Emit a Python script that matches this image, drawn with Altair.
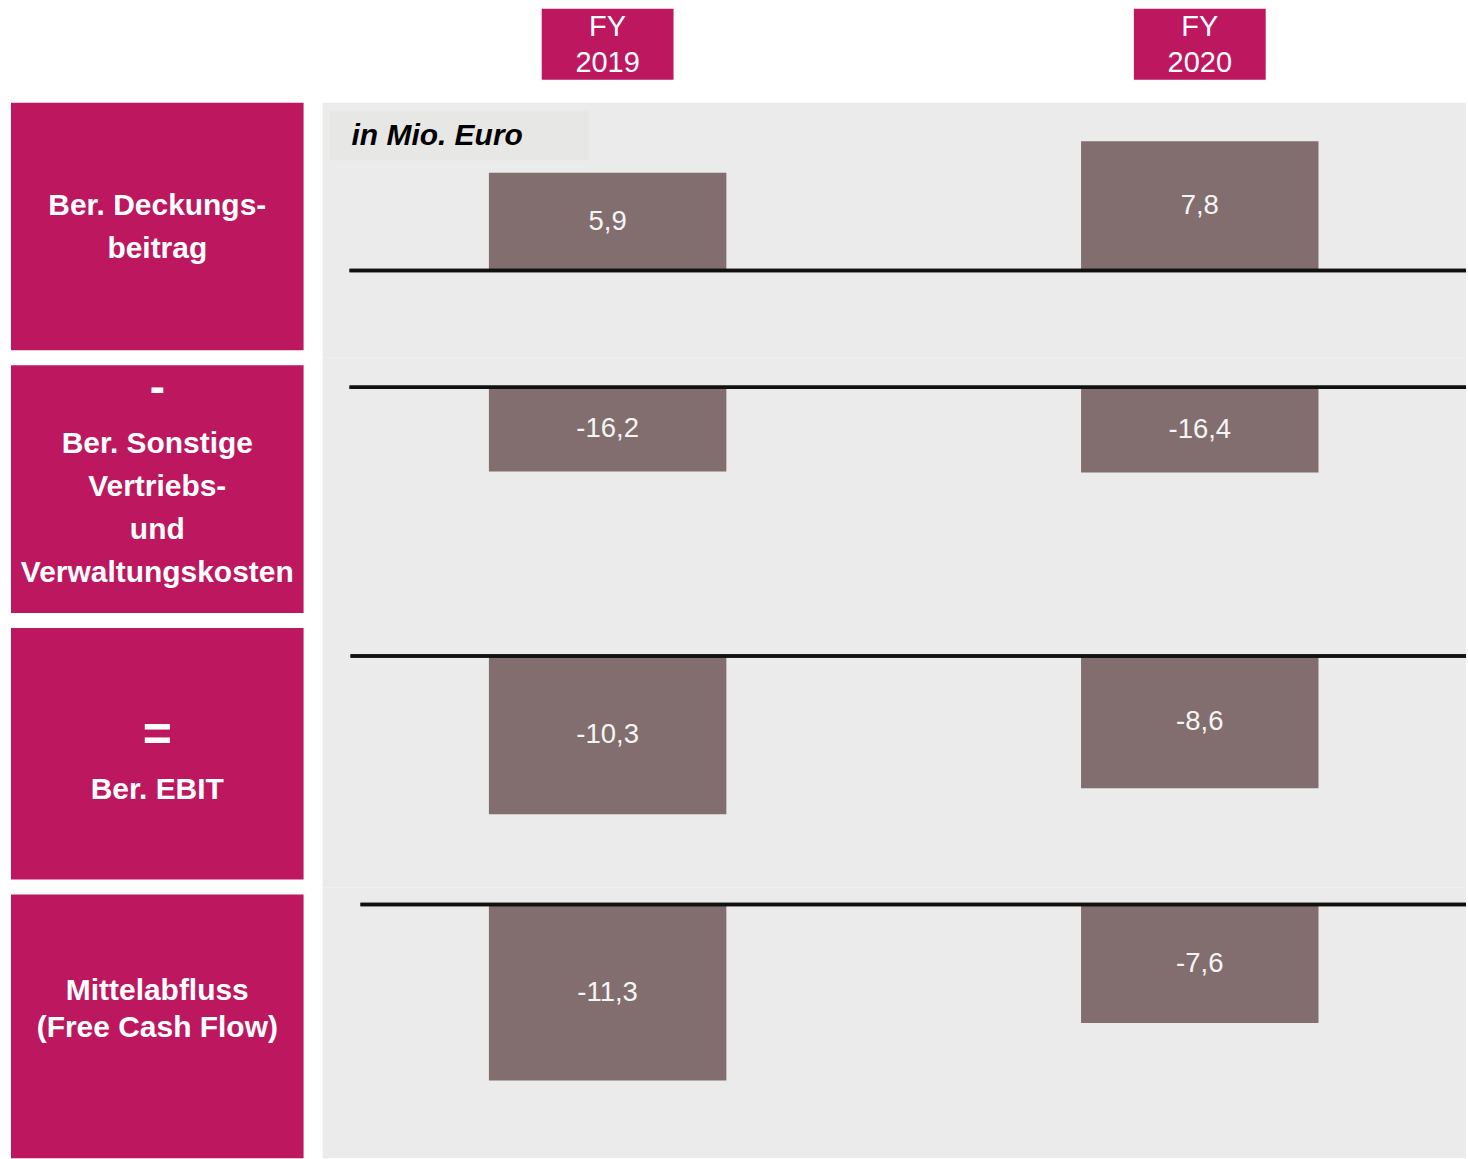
import altair as alt
import pandas as pd

# ---------------- data ----------------
metrics = [
    "Ber. Deckungsbeitrag",
    "Ber. Sonstige Vertriebs- und Verwaltungskosten",
    "Ber. EBIT",
    "Mittelabfluss (Free Cash Flow)",
]
row_labels = [
    "Ber. Deckungs-\nbeitrag",
    "Ber. Sonstige\nVertriebs-\nund\nVerwaltungskosten",
    "Ber. EBIT",
    "Mittelabfluss\n(Free Cash Flow)",
]
row_signs = ["", "-", "=", ""]
years = ["FY 2019", "FY 2020"]
fy2019 = [5.9, -16.2, -10.3, -11.3]
fy2020 = [7.8, -16.4, -8.6, -7.6]
unit_label = "in Mio. Euro"

# ---------------- style / layout ----------------
MAGENTA = "#BD1760"
BAR = "#826E6E"
BG = "#EBEBEB"
FONT = "Liberation Sans"

PLOT_W = 1145
LABEL_W = 293
row_h = [255, 263, 268, 271]          # heights of the grey row panels
baseline_px = [168, 30, 36, 17]        # zero line position inside each panel
px_per_unit = [16.57, 5.21, 15.4, 15.6]
rule_start = [27, 27, 28, 38]
box_h = [248, 248, 252, 264]
label_y = [104, 79, 162, 97]           # first text line inside each box
label_lh = [43, 43, 43, 37]
sign_y = [0, 23, 108, 0]
sign_size = [0, 46, 50, 0]

xscale = alt.Scale(domain=years, paddingInner=0.599, paddingOuter=0.265, align=0.53)


def bar_panel(i):
    df = pd.DataFrame({"year": years, "value": [fy2019[i], fy2020[i]], "metric": metrics[i]})
    h, b, k = row_h[i], baseline_px[i], px_per_unit[i]
    yscale = alt.Scale(domain=[-(h - b) / k, b / k], nice=False, zero=False)
    base = alt.Chart(df).transform_calculate(
        zero="0",
        mid="datum.value / 2",
        label="(datum.value < 0 ? '-' : '') + replace(format(abs(datum.value), '.1f'), '.', ',')",
    )
    bars = base.mark_bar(color=BAR).encode(
        x=alt.X("year:N", scale=xscale, axis=None),
        y=alt.Y("value:Q", scale=yscale, axis=None),
        y2="zero:Q",
    )
    rule = base.mark_rule(color="#111111", strokeWidth=3.5).encode(
        y=alt.Y("zero:Q", scale=yscale, axis=None),
        x=alt.value(rule_start[i]),
        x2=alt.value(PLOT_W),
    )
    text = base.mark_text(font=FONT, fontSize=27.5, color="#F5F5F5", baseline="middle").encode(
        x=alt.X("year:N", scale=xscale, axis=None),
        y=alt.Y("mid:Q", scale=yscale, axis=None),
        text="label:N",
    )
    layers = [bars, rule, text]
    if i == 0:
        udf = pd.DataFrame({"unit": [unit_label]})
        ubox = alt.Chart(udf).mark_rect(color="#E7E7E5").encode(
            x=alt.value(7), x2=alt.value(267), y=alt.value(8), y2=alt.value(58)
        )
        utext = alt.Chart(udf).mark_text(
            font=FONT, fontSize=30, fontWeight="bold", fontStyle="italic",
            align="left", baseline="middle", color="#000000",
        ).encode(x=alt.value(29), y=alt.value(33), text="unit:N")
        layers = [ubox, utext] + layers
    return alt.layer(*layers).properties(
        width=PLOT_W, height=h,
        view=alt.ViewBackground(fill=BG, strokeWidth=0),
    )


def label_panel(i):
    d = pd.DataFrame({"label": [row_labels[i]], "sign": [row_signs[i]]})
    lab = alt.Chart(d).mark_text(
        font=FONT, fontSize=30, fontWeight="bold", color="white",
        align="center", baseline="middle", lineBreak="\n", lineHeight=label_lh[i],
    ).encode(x=alt.value(LABEL_W / 2), y=alt.value(label_y[i]), text="label:N")
    layers = [lab]
    if row_signs[i]:
        sg = alt.Chart(d).mark_text(
            font=FONT, fontSize=sign_size[i], fontWeight="bold", color="white",
            align="center", baseline="middle",
        ).encode(x=alt.value(LABEL_W / 2), y=alt.value(sign_y[i]), text="sign:N")
        layers.append(sg)
    return alt.layer(*layers).properties(
        width=LABEL_W, height=box_h[i],
        view=alt.ViewBackground(fill=MAGENTA, strokeWidth=0),
    )


hdf = pd.DataFrame({"year": years})
header_boxes = alt.Chart(hdf).mark_bar(color=MAGENTA, size=132).encode(
    x=alt.X("year:N", scale=xscale, axis=None), y=alt.value(8), y2=alt.value(79)
)
header_text = alt.Chart(hdf).mark_text(
    font=FONT, fontSize=29, color="white", baseline="middle", lineBreak=" ", lineHeight=36
).encode(x=alt.X("year:N", scale=xscale, axis=None), y=alt.value(26), text="year:N")
header_panel = alt.layer(header_boxes, header_text).properties(width=PLOT_W, height=102)
blank = alt.Chart(hdf).mark_text(color="white").encode(
    x=alt.value(100), y=alt.value(50), text=alt.value(" ")
).properties(width=LABEL_W, height=102)

header = alt.hconcat(blank, header_panel, spacing=19)
left_col = alt.vconcat(*[label_panel(i) for i in range(4)], spacing=15)
right_col = alt.vconcat(*[bar_panel(i) for i in range(4)], spacing=0)
body = alt.hconcat(left_col, right_col, spacing=19)

chart = alt.vconcat(header, body, spacing=0).properties(
    padding={"left": 11, "top": 0, "right": 0, "bottom": 0},
    background="white",
).configure_view(strokeWidth=0)

chart.save("out.html", embed_options={"renderer": "svg", "actions": False})
